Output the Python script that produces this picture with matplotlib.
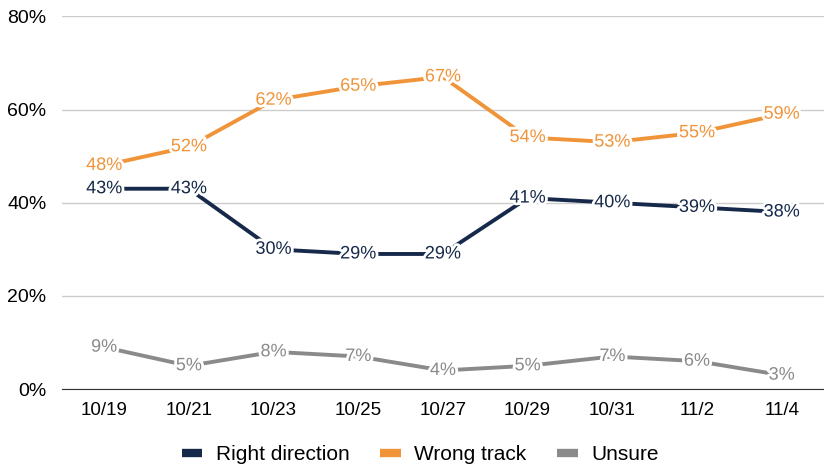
import numpy as np
import matplotlib.pyplot as plt
import matplotlib.patheffects as pe

plt.rcParams['font.family'] = ['Liberation Sans', 'DejaVu Sans']

# Datas e valores (%)
datas = ['10/19', '10/21', '10/23', '10/25', '10/27', '10/29', '10/31', '11/2', '11/4']
right_direction = [43, 43, 30, 29, 29, 41, 40, 39, 38]
wrong_track = [48, 52, 62, 65, 67, 54, 53, 55, 59]
unsure = [9, 5, 8, 7, 4, 5, 7, 6, 3]

series = [
    ('Right direction', right_direction, '#16294a'),
    ('Wrong track', wrong_track, '#f0943a'),
    ('Unsure', unsure, '#8a8a8a'),
]

fig, ax = plt.subplots(figsize=(8.24, 4.66), dpi=100)
fig.subplots_adjust(left=0.075, right=1.0, top=0.965, bottom=0.165)

x = np.arange(len(datas))
for nome, valores, cor in series:
    ax.plot(x, valores, color=cor, linewidth=2.8, label=nome, solid_capstyle='butt')
    for xi, v in zip(x, valores):
        ax.text(xi, v, f'{v}%', color=cor, fontsize=13, ha='center', va='center',
                path_effects=[pe.withStroke(linewidth=4, foreground='white')])

ax.set_ylim(0, 80)
ax.set_xlim(-0.5, len(datas) - 0.5)
ax.set_yticks([0, 20, 40, 60, 80])
ax.set_yticklabels([f'{t}%' for t in [0, 20, 40, 60, 80]], fontsize=14)
ax.set_xticks(x)
ax.set_xticklabels(datas, fontsize=13.5)
ax.tick_params(length=0, pad=9)
ax.tick_params(axis='y', pad=11)

ax.grid(axis='y', color='#cccccc', linewidth=1)
ax.set_axisbelow(True)
for lado in ['top', 'right', 'left']:
    ax.spines[lado].set_visible(False)
ax.spines['bottom'].set_color('#333333')

# legenda um pouco deslocada para a esquerda, como no original
ax.legend(loc='upper center', bbox_to_anchor=(0.47, -0.1), ncol=3, frameon=False,
          fontsize=15, handlelength=1.0, handleheight=0.5, handletextpad=0.65,
          columnspacing=1.45)
for linha in ax.get_legend().get_lines():
    linha.set_linewidth(6)

plt.savefig('out.png')
